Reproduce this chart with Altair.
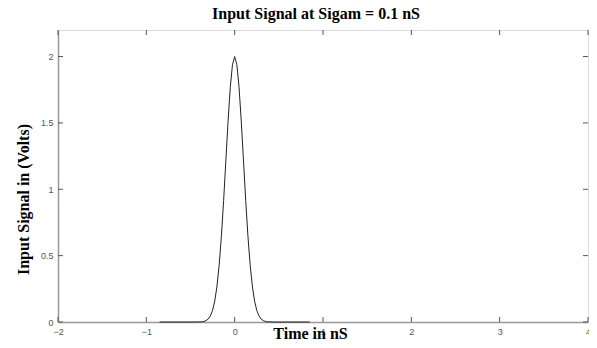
import altair as alt
import pandas as pd

# Values (Gaussian pulse, peak 2 V at t=0, sigma ~0.1 ns)
time_ns = [-0.85, -0.45, -0.40, -0.375, -0.35, -0.325, -0.30, -0.275, -0.25, -0.225, -0.20, -0.175,
           -0.15, -0.125, -0.10, -0.075, -0.05, -0.025, 0.0, 0.025, 0.05, 0.075, 0.10, 0.125, 0.15,
           0.175, 0.20, 0.225, 0.25, 0.275, 0.30, 0.325, 0.35, 0.375, 0.40, 0.45, 0.85]
volts = [0.0, 0.0, 0.001, 0.001, 0.004, 0.010, 0.022, 0.046, 0.088, 0.159, 0.271, 0.433,
         0.649, 0.916, 1.213, 1.510, 1.765, 1.938, 2.0, 1.938, 1.765, 1.510, 1.213, 0.916, 0.649,
         0.433, 0.271, 0.159, 0.088, 0.046, 0.022, 0.010, 0.004, 0.001, 0.001, 0.0, 0.0]

x_ticks = [-2, -1, 0, 1, 2, 3, 4]
y_ticks = [0, 0.5, 1, 1.5, 2]

W, H = 530, 292
TICK = 5

df = pd.DataFrame({"t": time_ns, "v": volts})
xt = pd.DataFrame({"xt": x_ticks})
yt = pd.DataFrame({"yt": y_ticks})

xscale = alt.Scale(domain=[-2, 4], nice=False, zero=False)
yscale = alt.Scale(domain=[0, 2.2], nice=False)

label_font = "Liberation Sans"
title_font = "Liberation Serif"

line = alt.Chart(df).mark_line(color="#222222", strokeWidth=1).encode(
    x=alt.X("t:Q", scale=xscale,
            axis=alt.Axis(values=x_ticks, format="~g", title="Time in nS", ticks=False, grid=False,
                          domainColor="#999999", domainWidth=1.5,
                          labelFont=label_font, labelFontSize=9, labelColor="#555555",
                          labelPadding=5, labelFlush=False,
                          titleFont=title_font, titleFontSize=16, titleFontWeight="bold",
                          titleColor="#000000", titleX=252, titleY=16,
                          titleBaseline="alphabetic", titleAlign="center")),
    y=alt.Y("v:Q", scale=yscale,
            axis=alt.Axis(values=y_ticks, format="~g", title="Input Signal in (Volts)", ticks=False,
                          grid=False, domainColor="#999999", domainWidth=1.5,
                          labelFont=label_font, labelFontSize=9, labelColor="#555555",
                          labelPadding=5, labelFlush=False,
                          titleFont=title_font, titleFontSize=16, titleFontWeight="bold",
                          titleColor="#000000", titleX=-30, titleY=169, titleAngle=270,
                          titleBaseline="alphabetic", titleAlign="center")),
)

tick_color = "#555555"
xb = alt.Chart(xt).mark_rule(color=tick_color, strokeWidth=1).encode(
    x=alt.X("xt:Q", scale=xscale), y=alt.value(H), y2=alt.value(H - TICK))
xtop = alt.Chart(xt).mark_rule(color=tick_color, strokeWidth=1).encode(
    x=alt.X("xt:Q", scale=xscale), y=alt.value(0), y2=alt.value(TICK))
yl = alt.Chart(yt).mark_rule(color=tick_color, strokeWidth=1).encode(
    y=alt.Y("yt:Q", scale=yscale), x=alt.value(0), x2=alt.value(TICK))
yr = alt.Chart(yt).mark_rule(color=tick_color, strokeWidth=1).encode(
    y=alt.Y("yt:Q", scale=yscale), x=alt.value(W), x2=alt.value(W - TICK))

chart = alt.layer(xb, xtop, yl, yr, line).properties(
    width=W, height=H,
    title=alt.TitleParams("Input Signal at Sigam = 0.1 nS", font=title_font, fontSize=16,
                          fontWeight="bold", color="#000000", anchor="middle", dx=-7, offset=8),
    autosize=alt.AutoSizeParams(type="none"),
    padding={"left": 50, "top": 22, "right": 1, "bottom": 18},
).configure_view(stroke="#888888", strokeWidth=1.5).configure(background="white")

chart.save("out.html", embed_options={"renderer": "svg", "actions": False})
